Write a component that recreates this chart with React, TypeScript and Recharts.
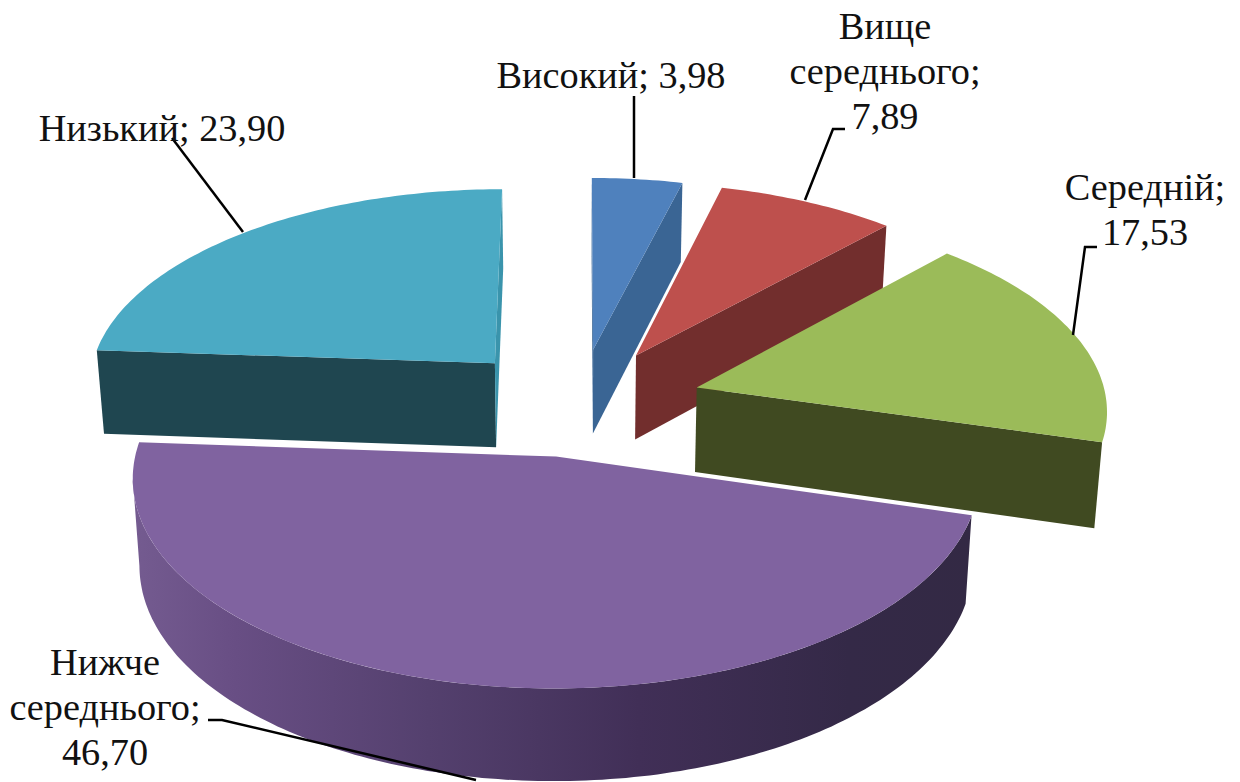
import { Pie, PieChart } from "recharts";

const levels = ["Високий", "Вище середнього", "Середній", "Нижче середнього", "Низький"];
const shares = [3.98, 7.89, 17.53, 46.7, 23.9];
const topColors = ["#4F81BD", "#BE504D", "#9BBB59", "#8063A0", "#4BAAC4"];
const wallColors = ["#3A6594", "#722E2D", "#404A21", "url(#rimShade)", "#1F4650"];
const edgeColors = ["#3A6594", "#722E2D", "#404A21", "#3F2F55", "#3A94AC"];

const labelLines = [
  ["Високий; 3,98"],
  ["Вище", "середнього;", "7,89"],
  ["Середній;", "17,53"],
  ["Нижче", "середнього;", "46,70"],
  ["Низький; 23,90"],
];
const labelCenters = [
  [611, 88],
  [885, 39],
  [1145, 200],
  [105, 675],
  [162, 141],
];
const labelLeaders = [
  "634,96 634,178",
  "845,129 833,129 805,200",
  "1097,247 1085,247 1073,335",
  "208,720 222,720 476,780",
  "172,138 243,232",
];

const rows = levels.map((name, i) => ({
  name,
  value: shares[i],
  fill: topColors[i],
  wall: wallColors[i],
  edge: edgeColors[i],
}));

// fake 3D: every slice is a prism pushed out from the centre, seen from above
const EXPLODE = 0.303;
const EXPLODE_Y = 0.9;
const TILT = 0.483;
const PERSPECTIVE = 0.097;
const DEPTH = 85;
const FLOOR_SCALE = 0.985;
// part of the rim that faces the viewer once perspective is applied
const RIM_FROM = 106;
const RIM_TO = 264;

const rad = (deg: number) => (deg * Math.PI) / 180;

function project(cx: number, cy: number, R: number, X: number, Y: number, floor: boolean) {
  const s = 1 / (1 + (PERSPECTIVE * Y) / R);
  const px = X * s;
  const py = -Y * TILT * s;
  if (!floor) return [cx + px, cy + py];
  return [cx + px * FLOOR_SCALE, cy + py * FLOOR_SCALE + DEPTH * s];
}

const toPath = (pts: number[][]) =>
  "M" + pts.map((p) => `${p[0].toFixed(1)},${p[1].toFixed(1)}`).join("L") + "Z";

const windingOf = (pts: number[][]) =>
  pts.reduce((sum, p, i) => {
    const q = pts[(i + 1) % pts.length];
    return sum + p[0] * q[1] - q[0] * p[1];
  }, 0);

function SliceShape(props: any) {
  const { cx, cy, outerRadius: R, startAngle, endAngle, fill, wall, edge } = props;
  // recharts angles run counter-clockwise from 3 o'clock, here clockwise from 12
  const from = 90 - startAngle;
  const to = 90 - endAngle;
  const mid = rad((from + to) / 2);
  const ox = Math.sin(mid) * EXPLODE * R;
  const oy = Math.cos(mid) * EXPLODE * EXPLODE_Y * R;

  const rim = (deg: number, floor: boolean) =>
    project(cx, cy, R, ox + R * Math.sin(rad(deg)), oy + R * Math.cos(rad(deg)), floor);
  const apex = (floor: boolean) => project(cx, cy, R, ox, oy, floor);

  const arc = (a: number, b: number, floor: boolean) => {
    const n = Math.max(2, Math.ceil(b - a));
    return Array.from({ length: n + 1 }, (_, i) => rim(a + ((b - a) * i) / n, floor));
  };

  const top = [apex(false), ...arc(from, to, false)];
  const startFace = [apex(false), rim(from, false), rim(from, true), apex(true)];
  const endFace = [apex(false), rim(to, false), rim(to, true), apex(true)];

  const frontFrom = Math.max(from, RIM_FROM);
  const frontTo = Math.min(to, RIM_TO);

  return (
    <g>
      {frontFrom < frontTo && (
        <path
          d={toPath([...arc(frontFrom, frontTo, false), ...arc(frontFrom, frontTo, true).reverse()])}
          fill={wall}
        />
      )}
      {windingOf(startFace) < 0 && <path d={toPath(startFace)} fill={wall} />}
      {windingOf(endFace) > 0 && <path d={toPath(endFace)} fill={edge} />}
      <path d={toPath(top)} fill={fill} />
    </g>
  );
}

function SliceLabel({ index }: any) {
  const [x, y] = labelCenters[index];
  return (
    <g>
      <polyline points={labelLeaders[index]} fill="none" stroke="#000" strokeWidth={2.5} />
      <text x={x} y={y} textAnchor="middle" fontFamily="'Liberation Serif'" fontSize={38.3} fill="#111">
        {labelLines[index].map((line, i) => (
          <tspan key={line} x={x} dy={i === 0 ? 0 : 45}>
            {line}
          </tspan>
        ))}
      </text>
    </g>
  );
}

export default function App() {
  return (
    <div style={{ position: "absolute", left: 0, top: 0, width: 1240, height: 782, overflow: "hidden", background: "#fff" }}>
      <PieChart width={1240} height={782} margin={{ top: 0, right: 0, bottom: 0, left: 0 }}>
        <defs>
          <linearGradient id="rimShade" gradientUnits="userSpaceOnUse" x1="135" y1="0" x2="975" y2="0">
            <stop offset="0" stopColor="#745B90" />
            <stop offset="0.12" stopColor="#684E84" />
            <stop offset="0.35" stopColor="#54406E" />
            <stop offset="0.6" stopColor="#412F57" />
            <stop offset="0.85" stopColor="#342947" />
            <stop offset="1" stopColor="#332944" />
          </linearGradient>
        </defs>
        <Pie
          data={rows}
          dataKey="value"
          nameKey="name"
          cx={578}
          cy={402}
          outerRadius={410}
          startAngle={90}
          endAngle={-270}
          stroke="none"
          shape={SliceShape}
          label={SliceLabel}
          labelLine={false}
          isAnimationActive={false}
        />
      </PieChart>
    </div>
  );
}
